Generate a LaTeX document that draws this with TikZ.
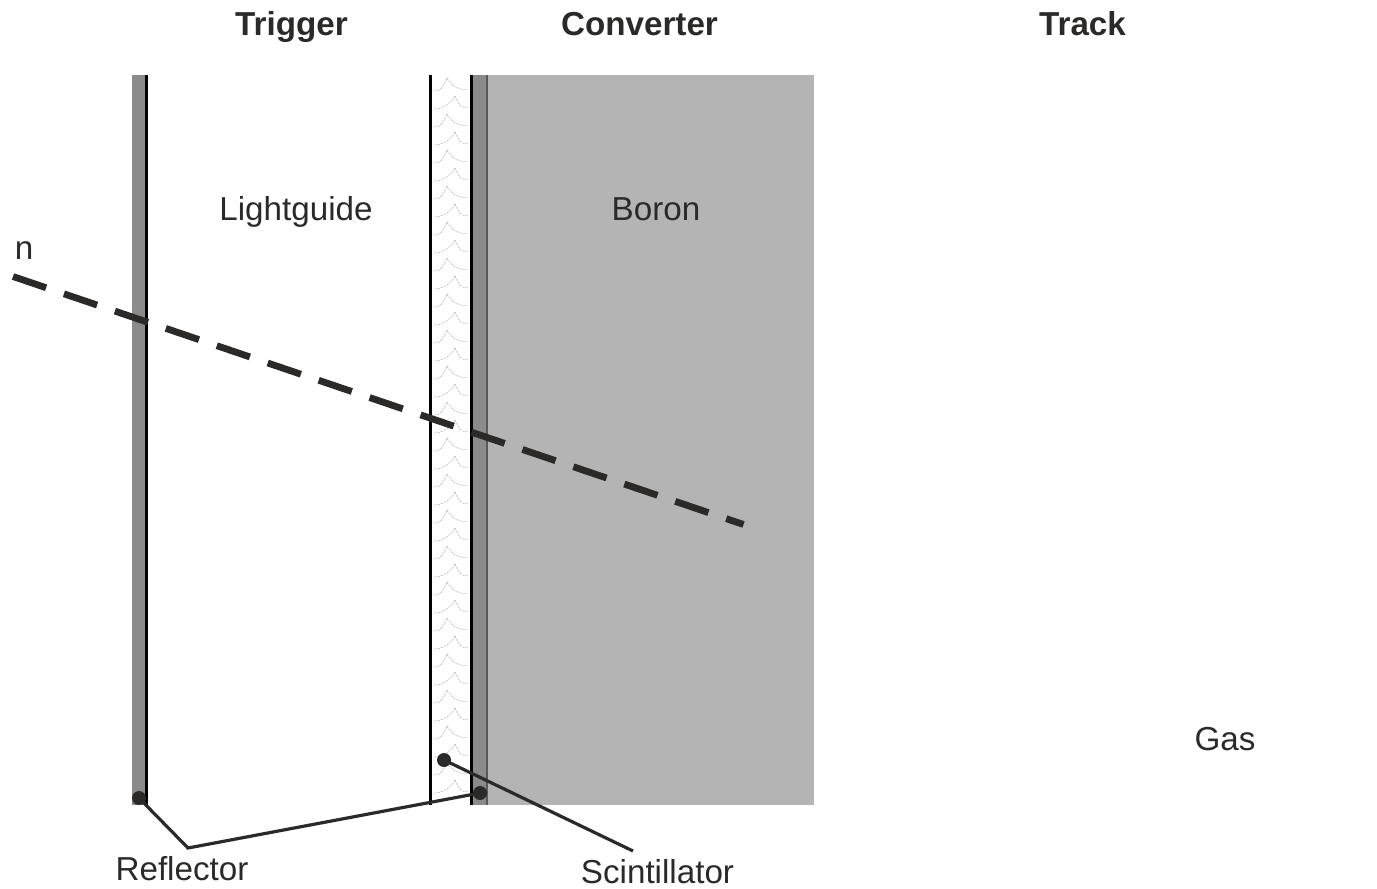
\documentclass[tikz,border=0pt]{standalone}
\usepackage{fontspec}
\setmainfont{Liberation Sans}
\definecolor{ink}{HTML}{2B2A29}
\definecolor{boron}{HTML}{B3B4B3}
\definecolor{refl}{HTML}{8A8B8A}
\tikzset{
  lab/.style={font=\fontsize{16.6pt}{18pt}\selectfont,text=ink,inner sep=0pt,anchor=base},
  head/.style={font=\fontsize{16.6pt}{18pt}\selectfont\bfseries,text=ink,inner sep=0pt,anchor=base},
  wall/.style={line width=1.8pt,black},
  lead/.style={line width=1.6pt,ink},
  dot/.style={circle,fill=ink,inner sep=0pt,minimum size=7pt},
  beam/.style={line width=3.4pt,ink,dash pattern=on 17.5pt off 9.4pt},
  arc/.style={black!28,line width=0.3pt,dash pattern=on 1.2pt off 0.5pt}
}
\begin{document}
\begin{tikzpicture}[x=0.5pt,y=-0.5pt]
\useasboundingbox (0,0) rectangle (1377,889);
\fill[boron] (487,75) rectangle (814,805);
\fill[refl] (472,75) rectangle (487,805);
\fill[refl] (132,75) rectangle (146,805);
\draw[black!65,line width=0.8pt] (487,75) -- (487,805);
\foreach \y [count=\i] in {78,96,...,790}{
  \pgfmathsetmacro{\px}{isodd(\i)?447:455}
  \draw[arc] (434,\y+13) .. controls (442,\y+13) and (\px-4,\y+8) .. (\px,\y);
  \draw[arc] (\px,\y) .. controls (\px+4,\y+8) and (460,\y+13) .. (468,\y+11);
}
\draw[wall] (146.5,75) -- (146.5,805);
\draw[wall] (430.5,75) -- (430.5,805);
\draw[wall] (471.5,75) -- (471.5,805);
\coordinate (bs) at (13,276.5);
\coordinate (be) at (743.5,524.5);
\draw[beam] (bs) -- (be);
\node[head] (trigger) at (291.5,35) {Trigger};
\node[head] (converter) at (639.5,35) {Converter};
\node[head] (track) at (1082.5,35) {Track};
\node[lab] (lightguide) at (296,220) {Lightguide};
\node[lab] (boronl) at (656,220) {Boron};
\node[lab] (nl) at (24,259) {n};
\node[lab] (gas) at (1225,750) {Gas};
\node[lab] (reflector) at (182,880) {Reflector};
\node[lab] (scint) at (657.5,883) {Scintillator};
\node[dot] (d1) at (139,798) {};
\node[dot] (d2) at (480,793) {};
\node[dot] (d3) at (444,760) {};
\coordinate (knee) at (188,848);
\coordinate (knee2) at (633,851);
\draw[lead] (d1.center) -- (knee) -- (d2.center);
\draw[lead] (d3.center) -- (knee2);
\end{tikzpicture}
\end{document}
